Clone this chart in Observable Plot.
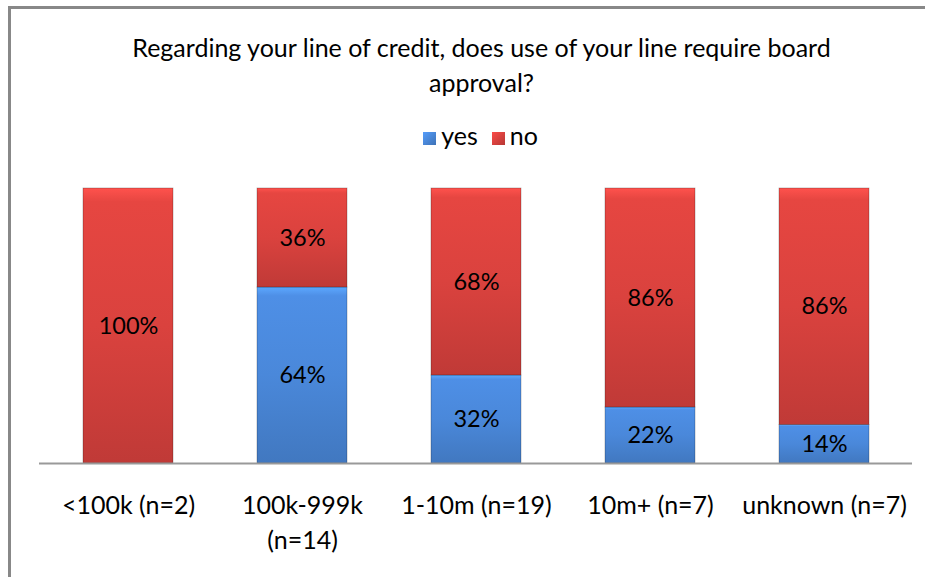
<!DOCTYPE html>
<html>
<head>
<meta charset="utf-8">
<script src="https://cdn.jsdelivr.net/npm/d3@7"></script>
<script src="https://cdn.jsdelivr.net/npm/@observablehq/plot@0.6"></script>
<style>
  html, body { margin: 0; padding: 0; background: #fff; overflow: hidden; }
  #wrap { position: relative; width: 925px; height: 577px; overflow: hidden; font-family: Lato, "Open Sans", sans-serif; }
  #frame { position: absolute; left: 8px; top: 6px; width: 917px; height: 571px; border-left: 3px solid #888; border-top: 3px solid #888; box-sizing: border-box; }
  #title { position: absolute; left: 0; width: 925px; top: 30px; text-align: center; font-size: 25px; line-height: 35px; color: #000; padding-left: 38px; box-sizing: border-box; }
  #legend { position: absolute; left: 0; width: 925px; top: 119px; text-align: center; font-size: 25px; line-height: 32px; color: #000; padding-left: 36px; box-sizing: border-box; }
  #legend span.sw { display: inline-block; width: 13px; height: 13px; margin-right: 5px; vertical-align: 0px; }
  #legend span.item { margin: 0 7px; }
  #chart { position: absolute; left: 0; top: 0; }
</style>
</head>
<body>
<div id="wrap">
  <div id="frame"></div>
  <div id="title">Regarding your line of credit, does use of your line require board<br>approval?</div>
  <div id="legend"></div>
  <div id="chart"></div>
</div>
<script>
const categories = ["<100k (n=2)", "100k-999k (n=14)", "1-10m (n=19)", "10m+ (n=7)", "unknown (n=7)"];
const tickLabels = ["<100k (n=2)", "100k-999k\n(n=14)", "1-10m (n=19)", "10m+ (n=7)", "unknown (n=7)"];
const series = ["yes", "no"];
const yesValues = [0, 64, 32, 22, 14];
const noValues = [100, 36, 68, 86, 86];
const seriesColors = ["#4A88DA", "#DA423E"];

const data = [];
categories.forEach((c, i) => {
  data.push({cat: c, series: "yes", value: yesValues[i]});
  data.push({cat: c, series: "no", value: noValues[i]});
});
const labelOf = new Map(categories.map((c, i) => [c, tickLabels[i]]));

// legend
const legend = document.getElementById("legend");
series.forEach((s, i) => {
  const item = document.createElement("span");
  item.className = "item";
  const sw = document.createElement("span");
  sw.className = "sw";
  sw.style.background = `linear-gradient(135deg, ${d3.color(seriesColors[i]).brighter(0.4)}, ${d3.color(seriesColors[i]).darker(0.5)})`;
  item.appendChild(sw);
  item.appendChild(document.createTextNode(s));
  legend.appendChild(item);
});

const plot = Plot.plot({
  width: 925,
  height: 577,
  marginLeft: 39,
  marginRight: 13,
  marginTop: 188,
  marginBottom: 114,
  style: {fontFamily: "Lato, 'Open Sans', sans-serif", background: "transparent", overflow: "visible"},
  x: {domain: categories, paddingInner: 0.484, paddingOuter: 0.242, label: null},
  y: {domain: [0, 1], axis: null},
  color: {domain: series, range: ["url(#gyes)", "url(#gno)"]},
  marks: [
    Plot.barY(data, {x: "cat", y: "value", fill: "series", order: series, offset: "normalize", stroke: "rgba(0,0,0,0.3)", strokeWidth: 0.8}),
    Plot.text(data.filter(d => d.value > 0), Plot.stackY({x: "cat", y: "value", z: "series", order: series, offset: "normalize", text: d => d.value + "%", fontSize: 23.5, fill: "#000"})),
    Plot.ruleY([0], {stroke: "#999", strokeWidth: 2}),
    Plot.axisX({tickSize: 0, tickPadding: 26, fontSize: 25, lineHeight: 1.4, tickFormat: d => labelOf.get(d), textAnchor: "middle", fill: "#000"})
  ]
});

// gradients to mimic the bevelled bars
const svg = d3.select(plot);
const defs = svg.insert("defs", ":first-child");
[["gyes", seriesColors[0]], ["gno", seriesColors[1]]].forEach(([id, col]) => {
  const g = defs.append("linearGradient").attr("id", id).attr("x1", 0).attr("y1", 0).attr("x2", 0).attr("y2", 1);
  const c = d3.color(col);
  g.append("stop").attr("offset", "0%").attr("stop-color", c.brighter(0.6));
  g.append("stop").attr("offset", "5%").attr("stop-color", c.brighter(0.15));
  g.append("stop").attr("offset", "50%").attr("stop-color", c);
  g.append("stop").attr("offset", "100%").attr("stop-color", c.darker(0.35));
});
document.getElementById("chart").appendChild(plot);
</script>
</body>
</html>
